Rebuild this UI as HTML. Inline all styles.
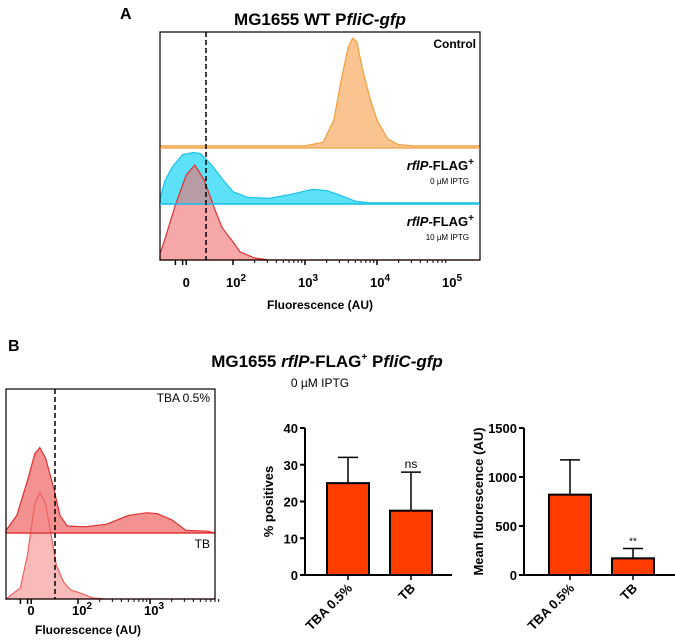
<!DOCTYPE html>
<html><head><meta charset="utf-8">
<style>
body{margin:0;background:#fff;}
svg{display:block;font-family:"Liberation Sans",sans-serif;}
.b{font-weight:bold;}
</style></head>
<body>
<svg id="fig" width="675" height="641" viewBox="0 0 675 641">
<text x="120" y="19" class="b" font-size="16">A</text>
<text x="320" y="25" class="b" font-size="17" text-anchor="middle">MG1655 WT P<tspan font-style="italic">fliC-gfp</tspan></text>
<g id="histA"></g>
<text x="8" y="351" class="b" font-size="16">B</text>
<text x="327" y="367" class="b" font-size="17" text-anchor="middle">MG1655 <tspan font-style="italic">rflP</tspan>-FLAG<tspan font-size="10" dy="-7">+</tspan><tspan dy="7"> P</tspan><tspan font-style="italic">fliC-gfp</tspan></text>
<text x="320" y="387" font-size="12" text-anchor="middle">0  µM IPTG</text>
<g id="histB"></g>
<g id="bar1"></g>
<g id="bar2"></g>
</svg>
<script>
// Panel A histogram data (x in display decades, h fraction of band height)
const ctrlX=[0.95,2.0,3.0,3.25,3.4,3.5,3.6,3.66,3.72,3.8,3.9,4.0,4.15,4.3,4.5,5.5];
const ctrlH=[0.02,0.02,0.02,0.05,0.25,0.6,0.9,0.98,0.95,0.7,0.45,0.25,0.08,0.03,0.02,0.02];
const blueX=[0.95,1.05,1.15,1.3,1.45,1.55,1.7,1.85,2.0,2.2,2.5,2.8,3.0,3.1,3.3,3.5,3.7,3.9,5.5];
const blueH=[0.1,0.4,0.65,0.88,0.92,0.9,0.7,0.45,0.22,0.12,0.1,0.17,0.23,0.26,0.24,0.15,0.05,0.02,0.02];
const redX=[0.95,1.05,1.2,1.35,1.47,1.6,1.75,1.85,1.98,2.1,2.3,2.5,2.7,5.5];
const redH=[0.06,0.2,0.55,0.85,0.95,0.8,0.5,0.32,0.2,0.08,0.02,0.0,0.0,0.0];
// Panel B histogram data
const tbaX=[1.0,1.15,1.3,1.4,1.47,1.55,1.65,1.75,1.85,2.1,2.4,2.7,2.95,3.1,3.3,3.5,3.8];
const tbaH=[0.03,0.2,0.6,0.9,0.97,0.85,0.55,0.2,0.08,0.07,0.1,0.2,0.23,0.22,0.15,0.03,0.02];
const tbX=[1.0,1.2,1.3,1.4,1.47,1.55,1.62,1.7,1.8,1.9,2.05,2.2,2.4,3.8];
const tbH=[0.0,0.1,0.4,0.85,0.95,0.85,0.6,0.3,0.15,0.08,0.05,0.01,0.0,0.0];
// Bar data
const cats=["TBA 0.5%","TB"];
const posVals=[25,17.5];
const posErr=[32,28];
const posTicks=[0,10,20,30,40];
const mfVals=[820,170];
const mfErr=[1175,270];
const mfTicks=[0,500,1000,1500];
const decLabels=["0","10","10","10","10"];

const NS="http://www.w3.org/2000/svg";
function mk(p,t,a){const e=document.createElementNS(NS,t);for(const k in a)e.setAttribute(k,a[k]);p.appendChild(e);return e;}

function hist(g,xs,hs,xf,base,hgt,fill,stroke,name,left,right){
  let d="M"+Math.max(left,xf(xs[0])).toFixed(1)+","+base;
  for(let i=0;i<xs.length;i++){let x=Math.max(left,Math.min(right,xf(xs[i])));d+=" L"+x.toFixed(1)+","+(base-hs[i]*hgt).toFixed(1);}
  d+=" L"+right+","+base+" Z";
  const p=mk(g,"path",{d:d,fill:fill,stroke:stroke,"stroke-width":1.2});
  
  
}
function logTicks(g,xf,y,from,to){
  for(let dec=from;dec<to;dec++){for(let m=1;m<10;m++){const x=xf(dec+Math.log10(m));mk(g,"line",{x1:x,x2:x,y1:y,y2:y+(m==1?5:3),stroke:"#000","stroke-width":m==1?1.5:1});}}
}
// Panel A
(function(){
  const g=document.getElementById("histA");
  const L=160,R=480,T=32,B=260;
  const xf=d=>233+(d-2)*72;
  hist(g,ctrlX,ctrlH,xf,148,112,"#f9c48f","#f0a040","control-histogram",L,R);
  hist(g,blueX,blueH,xf,204,56,"#5ce1f8","#1ec0ec","rflp-0-iptg-histogram",L,R);
  hist(g,redX,redH,xf,260,100,"rgba(240,110,110,0.6)","#e03030","rflp-10-iptg-histogram",L,R);
  mk(g,"rect",{x:L,y:T,width:R-L,height:B-T,fill:"none",stroke:"#000","stroke-width":1.2});
  mk(g,"line",{x1:L,x2:R,y1:148,y2:148,stroke:"#f0a040","stroke-width":1});
  mk(g,"line",{x1:L,x2:R,y1:204,y2:204,stroke:"#1ec0ec","stroke-width":1.5});
  mk(g,"line",{x1:206,x2:206,y1:T,y2:B,stroke:"#000","stroke-width":1.5,"stroke-dasharray":"5,3"});
  logTicks(g,xf,B,2,5);
  [1.2,1.3,1.35].forEach(d=>mk(g,"line",{x1:xf(d),x2:xf(d),y1:B,y2:B+5,stroke:"#000","stroke-width":1.5}));
  const lx=[1.35,2,3,4,5];
  lx.forEach((d,i)=>{const t=mk(g,"text",{x:xf(d)+(i?3:0),y:287,"font-size":13,"text-anchor":"middle","font-weight":"bold"});t.textContent=decLabels[i];if(i>0){const s=mk(t,"tspan",{dy:-6,"font-size":10});s.textContent=String(i+1);}});
  const at=mk(g,"text",{x:320,y:309,"font-size":12,"text-anchor":"middle","font-weight":"bold"});at.textContent="Fluorescence (AU)";
  const c=mk(g,"text",{x:476,y:48,"font-size":12,"text-anchor":"end","font-weight":"bold"});c.textContent="Control";
  [[170,"0 µM IPTG"],[226,"10 µM IPTG"]].forEach(([y,s])=>{
    const t=mk(g,"text",{x:474,y:y,"font-size":13,"text-anchor":"end","font-weight":"bold"});
    const a=mk(t,"tspan",{"font-style":"italic"});a.textContent="rflP";const b=mk(t,"tspan",{});b.textContent="-FLAG";const c2=mk(t,"tspan",{dy:-5,"font-size":10});c2.textContent="+";
    const s2=mk(g,"text",{x:469,y:y+14,"font-size":8,"text-anchor":"end"});s2.textContent=s;
  });
})();
// Panel B histogram
(function(){
  const g=document.getElementById("histB");
  const L=6,R=215,T=389,B=599;
  const xf=d=>78+(d-2)*72;
  hist(g,tbaX,tbaH,xf,533,88,"rgba(240,110,110,0.75)","#e03030","tba-histogram",L,R);
  hist(g,tbX,tbH,xf,599,112,"rgba(245,140,140,0.6)","#f06060","tb-histogram",L,R);
  mk(g,"line",{x1:L,x2:R,y1:533,y2:533,stroke:"#e03030","stroke-width":1.2});
  mk(g,"rect",{x:L,y:T,width:R-L,height:B-T,fill:"none",stroke:"#000","stroke-width":1.2});
  mk(g,"line",{x1:55,x2:55,y1:T,y2:B,stroke:"#000","stroke-width":1.5,"stroke-dasharray":"5,3"});
  logTicks(g,xf,B,2,4);
  [1.2,1.3,1.35].forEach(d=>mk(g,"line",{x1:xf(d),x2:xf(d),y1:B,y2:B+5,stroke:"#000","stroke-width":1.5}));
  [[31,0],[xf(2)+4,2],[xf(3)+4,3]].forEach(([x,e])=>{const t=mk(g,"text",{x:x,y:615,"font-size":13,"text-anchor":"middle","font-weight":"bold"});t.textContent=e?"10":"0";if(e){const s=mk(t,"tspan",{dy:-6,"font-size":10});s.textContent=String(e);}});
  const at=mk(g,"text",{x:88,y:634,"font-size":12,"text-anchor":"middle","font-weight":"bold"});at.textContent="Fluorescence (AU)";
  const a=mk(g,"text",{x:210,y:402,"font-size":12,"text-anchor":"end"});a.textContent="TBA 0.5%";
  const b=mk(g,"text",{x:210,y:548,"font-size":12,"text-anchor":"end"});b.textContent="TB";
})();
function barChart(id,ax,xEnd,vals,errs,ticks,ymax,ylabel,ylx,sig,bx){
  const g=document.getElementById(id);
  const y0=575,yt=428;const yf=v=>y0-(v/ymax)*(y0-yt);
  vals.forEach((v,i)=>{
    const x=bx[i],w=42;
    mk(g,"line",{x1:x+w/2,x2:x+w/2,y1:yf(v),y2:yf(errs[i]),stroke:"#000","stroke-width":1.5});
    mk(g,"line",{x1:x+w/2-10,x2:x+w/2+10,y1:yf(errs[i]),y2:yf(errs[i]),stroke:"#000","stroke-width":1.5});
    const r=mk(g,"rect",{x:x,y:yf(v),width:w,height:y0-yf(v),fill:"#ff3d00",stroke:"#000","stroke-width":2});
    
    
    mk(g,"line",{x1:x+w/2,x2:x+w/2,y1:y0,y2:y0+5,stroke:"#000","stroke-width":1.5});
    const t=mk(g,"text",{transform:`translate(${x+w/2+5},${y0+14}) rotate(-45)`,"font-size":13,"font-weight":"bold","text-anchor":"end"});t.textContent=cats[i];
    if(sig[i]){const s=mk(g,"text",{x:x+w/2,y:yf(errs[i])-4,"font-size":sig[i]=="ns"?12:10,"text-anchor":"middle"});s.textContent=sig[i];}
  });
  mk(g,"line",{x1:ax,x2:ax,y1:yt,y2:y0,stroke:"#000","stroke-width":2});
  mk(g,"line",{x1:ax,x2:xEnd,y1:y0,y2:y0,stroke:"#000","stroke-width":2});
  ticks.forEach(v=>{mk(g,"line",{x1:ax-5,x2:ax,y1:yf(v),y2:yf(v),stroke:"#000","stroke-width":2});const t=mk(g,"text",{x:ax-7,y:yf(v)+5,"font-size":13,"font-weight":"bold","text-anchor":"end"});t.textContent=String(v);});
  const l=mk(g,"text",{transform:`translate(${ylx},${(y0+yt)/2}) rotate(-90)`,"font-size":13,"font-weight":"bold","text-anchor":"middle"});l.textContent=ylabel;
}
barChart("bar1",305,452,posVals,posErr,posTicks,40,"% positives",273,["","ns"],[327,390]);
barChart("bar2",524,675,mfVals,mfErr,mfTicks,1500,"Mean fluorescence (AU)",483,["","**"],[549,612]);
</script>
</body></html>
